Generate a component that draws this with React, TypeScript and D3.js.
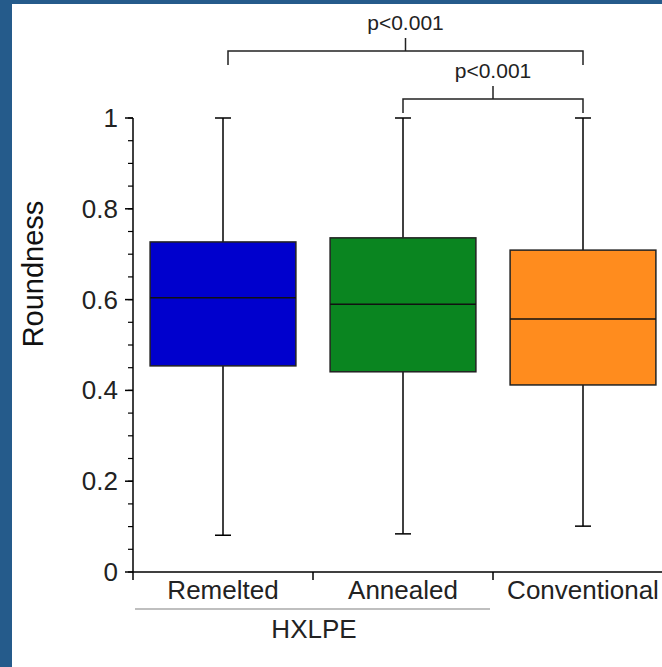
import React from "react";
import * as d3 from "d3";

// summary stats
const groups = ["Remelted", "Annealed", "Conventional"];
const whiskerHigh = [1.0, 1.0, 1.0];
const q3 = [0.727, 0.736, 0.709];
const median = [0.604, 0.59, 0.557];
const q1 = [0.454, 0.441, 0.412];
const whiskerLow = [0.081, 0.084, 0.101];
const colors = ["#0000cd", "#0a8520", "#ff8c1e"];

const yTicks = [0, 0.2, 0.4, 0.6, 0.8, 1];
const yTickLabels = ["0", "0.2", "0.4", "0.6", "0.8", "1"];
const comparisons = [
  { from: "Remelted", to: "Conventional", label: "p<0.001", level: 0 },
  { from: "Annealed", to: "Conventional", label: "p<0.001", level: 1 },
];

const W = 662, H = 667;
const font = "'Liberation Sans', Arial, sans-serif";

export default function App() {
  const y = d3.scaleLinear().domain([0, 1]).range([572, 118]);
  const x = d3.scaleBand().domain(groups).range([133, 673]).padding(0);
  const bw = x.bandwidth();
  const boxW = bw * 0.81;
  const capW = 16;
  const minor = d3.range(0, 1.0001, 0.05);

  const bracketY = [51, 99];
  const bracketDrop = 14;

  return (
    <svg width={W} height={H} style={{ position: "fixed", left: 0, top: 0, background: "#fff" }}>
      <rect x={0} y={0} width={W} height={H} fill="#fff" />
      {/* frame */}
      <rect x={0} y={0} width={12} height={H} fill="#255b8b" />
      <rect x={0} y={0} width={W} height={4} fill="#255b8b" />

      {/* y axis */}
      <line x1={133} x2={133} y1={y(1)} y2={580} stroke="#000" strokeWidth={1.5} />
      {minor.map((v, i) => (
        <line key={"m" + i} x1={128} x2={133} y1={y(v)} y2={y(v)} stroke="#000" strokeWidth={1.2} />
      ))}
      {yTicks.map((v, i) => (
        <g key={"t" + i}>
          <line x1={125} x2={133} y1={y(v)} y2={y(v)} stroke="#000" strokeWidth={1.5} />
          <text x={118} y={y(v) + 9} textAnchor="end" fontFamily={font} fontSize={26} fill="#222">
            {yTickLabels[i]}
          </text>
        </g>
      ))}
      <text
        transform={`translate(43,274) rotate(-90)`}
        textAnchor="middle"
        fontFamily={font}
        fontSize={29}
        fill="#111"
      >
        Roundness
      </text>

      {/* x axis */}
      <line x1={133} x2={W} y1={572} y2={572} stroke="#000" strokeWidth={1.5} />
      {groups.slice(1).map((g) => (
        <line key={g} x1={x(g)!} x2={x(g)!} y1={572} y2={580} stroke="#000" strokeWidth={1.5} />
      ))}
      {groups.map((g) => (
        <text key={g} x={x(g)! + bw / 2} y={599} textAnchor="middle" fontFamily={font} fontSize={26} fill="#222">
          {g}
        </text>
      ))}
      <line x1={135} x2={490} y1={609} y2={609} stroke="#aaa" strokeWidth={1.5} />
      <text x={314} y={638} textAnchor="middle" fontFamily={font} fontSize={26} fill="#222">
        HXLPE
      </text>

      {/* boxes */}
      {groups.map((g, i) => {
        const cx = x(g)! + bw / 2;
        return (
          <g key={g}>
            <line x1={cx} x2={cx} y1={y(whiskerHigh[i])} y2={y(q3[i])} stroke="#000" strokeWidth={1.5} />
            <line x1={cx} x2={cx} y1={y(q1[i])} y2={y(whiskerLow[i])} stroke="#000" strokeWidth={1.5} />
            <line x1={cx - capW / 2} x2={cx + capW / 2} y1={y(whiskerHigh[i])} y2={y(whiskerHigh[i])} stroke="#000" strokeWidth={1.5} />
            <line x1={cx - capW / 2} x2={cx + capW / 2} y1={y(whiskerLow[i])} y2={y(whiskerLow[i])} stroke="#000" strokeWidth={1.5} />
            <rect
              x={cx - boxW / 2}
              y={y(q3[i])}
              width={boxW}
              height={y(q1[i]) - y(q3[i])}
              fill={colors[i]}
              stroke="#222"
              strokeWidth={1.5}
            />
            <line x1={cx - boxW / 2} x2={cx + boxW / 2} y1={y(median[i])} y2={y(median[i])} stroke="#111" strokeWidth={1.5} />
          </g>
        );
      })}

      {/* significance brackets */}
      {comparisons.map((c, i) => {
        const x1 = x(c.from)! + bw / 2 + (c.level === 0 ? 5 : 0);
        const x2 = x(c.to)! + bw / 2;
        const by = bracketY[c.level];
        const mid = (x1 + x2) / 2;
        return (
          <g key={i}>
            <path
              d={`M${x1},${by + bracketDrop}V${by}H${x2}V${by + bracketDrop}`}
              fill="none"
              stroke="#222"
              strokeWidth={1.5}
            />
            <line x1={mid} x2={mid} y1={by} y2={by - 13} stroke="#222" strokeWidth={1.5} />
            <text x={mid} y={by - 21} textAnchor="middle" fontFamily={font} fontSize={21} fill="#222">
              {c.label}
            </text>
          </g>
        );
      })}
    </svg>
  );
}
